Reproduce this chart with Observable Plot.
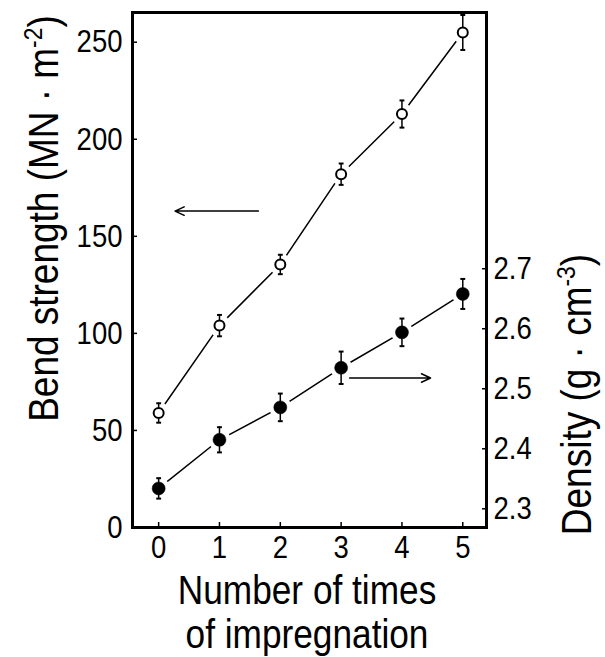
<!DOCTYPE html>
<html><head><meta charset="utf-8">
<script src="https://cdn.jsdelivr.net/npm/d3@7"></script>
<script src="https://cdn.jsdelivr.net/npm/@observablehq/plot@0.6"></script>
<style>
html,body{margin:0;padding:0;background:#fff;}
#chart svg{display:block;}
</style></head><body><div id="chart"></div>
<script>
// ---- data ----
const times = [0, 1, 2, 3, 4, 5];
const strength = [59, 104, 135.5, 182, 213, 255];          // MN·m^-2 (open circles, left axis)
const strengthErr = [5, 5.5, 5, 5.5, 7, 9];
const density = [2.334, 2.415, 2.469, 2.535, 2.594, 2.658]; // g·cm^-3 (filled circles, right axis)
const densityErr = [0.017, 0.021, 0.023, 0.027, 0.023, 0.025];
const strengthTicks = [0, 50, 100, 150, 200, 250];
const densityTicks = [2.3, 2.4, 2.5, 2.6, 2.7];
// arrows pointing to the axis each series belongs to (data units)
const strengthArrow = {from: 1.64, to: 0.27, value: 163};
const densityArrow = {from: 3.14, to: 4.47, value: 2.518};

// alignment of the right (density) axis against the left (strength) axis
const densToY = d3.scaleLinear().domain([2.3, 2.7]).range([9.63, 133.3]);

const FONT = '"Liberation Sans", Arial, sans-serif';
const SQUEEZE = 0.86; // the reference lettering is a narrow sans
const sData = times.map((t, i) => ({t, v: strength[i], lo: strength[i] - strengthErr[i], hi: strength[i] + strengthErr[i]}));
const dData = times.map((t, i) => ({t, v: densToY(density[i]), lo: densToY(density[i] - densityErr[i]), hi: densToY(density[i] + densityErr[i])}));
const cap = 0.04;
const caps = (data) => [
  Plot.link(data, {x1: d => d.t - cap, x2: d => d.t + cap, y1: "hi", y2: "hi", stroke: "black", strokeWidth: 2}),
  Plot.link(data, {x1: d => d.t - cap, x2: d => d.t + cap, y1: "lo", y2: "lo", stroke: "black", strokeWidth: 2})
];

const chart = Plot.plot({
  width: 605, height: 657,
  marginLeft: 132, marginRight: 119, marginTop: 12, marginBottom: 130,
  style: {fontFamily: FONT, fontSize: "32px", color: "#000", background: "#fff", overflow: "visible"},
  x: {domain: [-0.43, 5.39]},
  y: {domain: [0, 265.3]},
  marks: [
    Plot.axisX({ticks: times, tickFormat: d => String(d), tickSize: -5, tickPadding: 13, label: null, fontSize: 32, strokeWidth: 1.5}),
    Plot.axisY({ticks: strengthTicks, tickFormat: d => String(d), tickSize: -5, tickPadding: 15, label: null, fontSize: 32, strokeWidth: 1.5}),
    Plot.axisY({anchor: "right", ticks: densityTicks.map(d => densToY(d)), tickFormat: d => densToY.invert(d).toFixed(1), tickSize: -5, tickPadding: 12, label: null, fontSize: 32, strokeWidth: 1.5}),
    // connecting lines
    Plot.line(sData, {x: "t", y: "v", stroke: "black", strokeWidth: 1.5}),
    Plot.line(dData, {x: "t", y: "v", stroke: "black", strokeWidth: 1.5}),
    // white halos that break the lines around the markers
    Plot.dot(sData, {x: "t", y: "v", r: 11, fill: "white", stroke: "none"}),
    Plot.dot(dData, {x: "t", y: "v", r: 11, fill: "white", stroke: "none"}),
    // error bars
    Plot.ruleX(sData, {x: "t", y1: "lo", y2: "hi", stroke: "black", strokeWidth: 1.5}),
    ...caps(sData),
    Plot.ruleX(dData, {x: "t", y1: "lo", y2: "hi", stroke: "black", strokeWidth: 1.5}),
    ...caps(dData),
    // markers
    Plot.dot(sData, {x: "t", y: "v", r: 5, fill: "white", stroke: "black", strokeWidth: 2}),
    Plot.dot(dData, {x: "t", y: "v", r: 6.5, fill: "black", stroke: "black", strokeWidth: 0.5}),
    // arrows
    Plot.arrow([strengthArrow], {x1: "from", x2: "to", y1: "value", y2: "value", stroke: "black", strokeWidth: 1.5, headLength: 10, headAngle: 50}),
    Plot.arrow([densityArrow], {x1: "from", x2: "to", y1: d => densToY(d.value), y2: d => densToY(d.value), stroke: "black", strokeWidth: 1.5, headLength: 10, headAngle: 50}),
    Plot.frame({stroke: "black", strokeWidth: 3}),
    // titles
    Plot.text(["Bend strength (MN · m^-2)"], {frameAnchor: "left", rotate: -90, dx: -75, dy: -51.5, lineAnchor: "bottom", textAnchor: "middle", fontSize: 43}),
    Plot.text(["Density (g · cm^-3)"], {frameAnchor: "right", rotate: -90, dx: 104, dy: 124.5, lineAnchor: "bottom", textAnchor: "middle", fontSize: 43}),
    Plot.text(["Number of times\nof impregnation"], {frameAnchor: "bottom", dx: -2.5, dy: 120, lineAnchor: "bottom", lineHeight: 1.07, textAnchor: "middle", fontSize: 41})
  ]
});

// superscripts in the axis titles
chart.querySelectorAll("text").forEach(t => {
  const s = t.textContent;
  const m = s.match(/^(.*)\^(-?\d)(.*)$/);
  if (!m) return;
  t.textContent = "";
  const mk = (txt, sup) => {
    const ts = document.createElementNS("http://www.w3.org/2000/svg", "tspan");
    ts.textContent = txt;
    if (sup) { ts.setAttribute("baseline-shift", "super"); ts.style.fontSize = "62%"; }
    t.appendChild(ts);
  };
  mk(m[1]); mk(m[2], true); mk(m[3]);
});
// condensed lettering: squeeze along the reading direction, keeping each anchor in place
chart.querySelectorAll("text").forEach(t => {
  t.setAttribute("transform", ((t.getAttribute("transform") || "") + ` scale(${SQUEEZE},1)`).trim());
  [t, ...t.querySelectorAll("tspan")].forEach(el => {
    const x = el.getAttribute("x");
    if (x !== null && x !== "" && !isNaN(+x)) el.setAttribute("x", +x / SQUEEZE);
  });
});
document.getElementById("chart").appendChild(chart);
</script>
</body></html>
